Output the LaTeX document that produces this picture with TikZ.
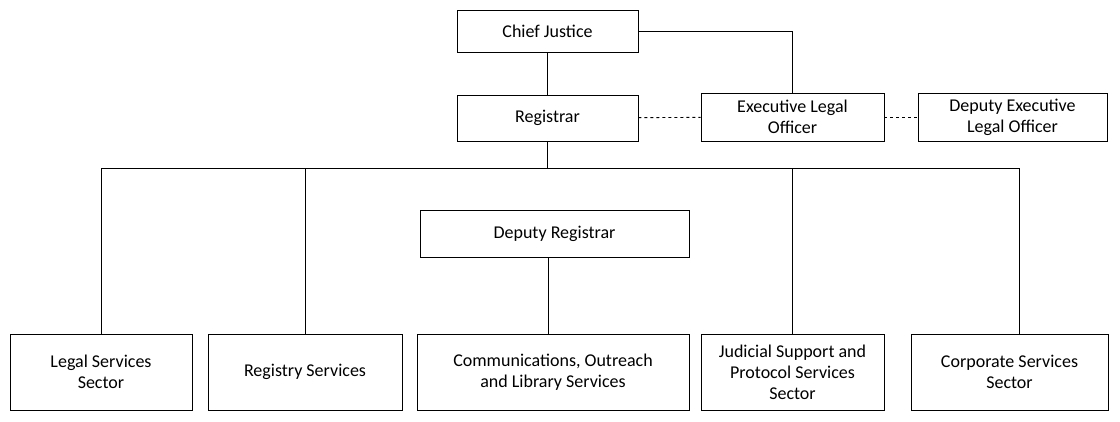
\documentclass[tikz,border=0pt]{standalone}
\usepackage{fontspec}
\setmainfont{Carlito}
\begin{document}
\begin{tikzpicture}[x=1pt,y=-1pt,
 box/.style={draw,line width=0.9pt,align=center,inner sep=0pt,font=\fontsize{18}{21}\selectfont},
 ln/.style={line width=0.9pt}]
\useasboundingbox (0,0) rectangle (1120,421);
\node[box,minimum width=181,minimum height=42] (cj) at (547.5,31) {Chief Justice};
\node[box,minimum width=181,minimum height=46] (reg) at (547.5,118) {Registrar};
\node[box,minimum width=183,minimum height=48] (elo) at (792.5,117) {Executive Legal\\Officer};
\node[box,minimum width=189,minimum height=48] (delo) at (1012.5,117) {Deputy Executive\\Legal Officer};
\node[box,minimum width=269,minimum height=47] (dr) at (554.5,233.5) {Deputy Registrar};
\node[box,minimum width=182,minimum height=76] (ls) at (101,372) {Legal Services\\Sector};
\node[box,minimum width=194,minimum height=76] (rs) at (305,372) {Registry Services};
\node[box,minimum width=272,minimum height=76] (co) at (553,372) {Communications, Outreach\\and Library Services};
\node[box,minimum width=183,minimum height=76] (js) at (792.5,372) {Judicial Support and\\Protocol Services\\Sector};
\node[box,minimum width=197,minimum height=76] (cs) at (1009.5,372) {Corporate Services\\Sector};
\coordinate (h) at (547.5,168);
\draw[ln] (cj) -- (reg);
\draw[ln] (cj.east) -| (elo.north);
\draw[ln,dashed] (reg) -- (elo);
\draw[ln,dashed] (elo) -- (delo);
\draw[ln] (reg) -- (h);
\draw[ln] (h) -- (h-|dr.north);
\draw[ln] (h) -| (ls.north);
\draw[ln] (h) -| (rs.north);
\draw[ln] (h) -| (js.north);
\draw[ln] (h) -| (1019,334) coordinate (cst);
\draw[ln] (dr.south-|548,0) -- (co.north-|548,0);
\end{tikzpicture}
\end{document}
